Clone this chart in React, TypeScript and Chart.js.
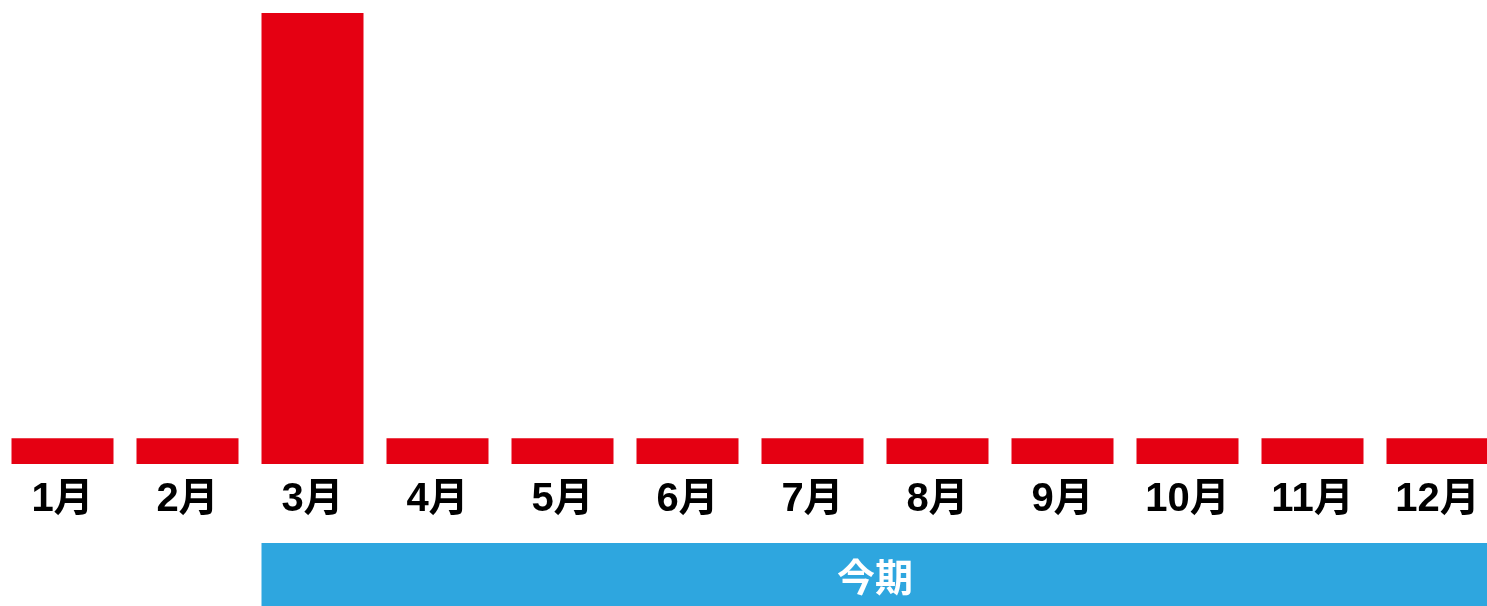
import React, { useEffect, useRef } from "react";
import { Chart, registerables } from "chart.js";

Chart.register(...registerables);

const months = ["1月", "2月", "3月", "4月", "5月", "6月", "7月", "8月", "9月", "10月", "11月", "12月"];
const values = [1, 1, 17.5, 1, 1, 1, 1, 1, 1, 1, 1, 1];
const periodLabel = "今期";
const periodStartIndex = 2;

const RED = "#E50012";
const BLUE = "#2EA6DF";
const FONT = '"Liberation Sans", "Noto Sans CJK JP", sans-serif';

const periodBand = {
  id: "periodBand",
  afterDraw(chart: any) {
    const meta = chart.getDatasetMeta(0);
    const first = meta.data[periodStartIndex];
    const last = meta.data[meta.data.length - 1];
    if (!first || !last) return;
    const xScale = chart.scales.x;
    const ctx = chart.ctx;
    const left = first.x - first.width / 2;
    const right = last.x + last.width / 2;
    const top = xScale.bottom + 7;
    const bottom = chart.height;
    ctx.save();
    ctx.fillStyle = BLUE;
    ctx.fillRect(left, top, right - left, bottom - top);
    ctx.fillStyle = "#ffffff";
    ctx.font = `bold 38px "Noto Sans CJK JP", sans-serif`;
    ctx.textAlign = "center";
    ctx.textBaseline = "middle";
    ctx.fillText(periodLabel, (left + right) / 2, (top + bottom) / 2 + 2);
    ctx.restore();
  },
};

export default function App() {
  const ref = useRef<HTMLCanvasElement | null>(null);
  useEffect(() => {
    if (!ref.current) return;
    const chart = new Chart(ref.current, {
      type: "bar",
      data: {
        labels: months,
        datasets: [
          {
            data: values,
            backgroundColor: RED,
            borderWidth: 0,
            barPercentage: 0.816,
            categoryPercentage: 1,
          },
        ],
      },
      options: {
        animation: false,
        responsive: false,
        devicePixelRatio: 1,
        layout: { padding: { top: 0, left: 0, right: 0, bottom: 70 } },
        plugins: { legend: { display: false }, tooltip: { enabled: false } },
        scales: {
          x: {
            grid: { display: false, drawTicks: false },
            border: { display: false },
            ticks: {
              color: "#000",
              padding: 12,
              font: { family: FONT, size: 40, weight: "bold" },
              maxRotation: 0,
              autoSkip: false,
            },
          },
          y: {
            display: false,
            min: 0,
            max: 18,
          },
        },
      },
      plugins: [periodBand],
    });
    return () => chart.destroy();
  }, []);
  return (
    <div
      style={{
        position: "fixed",
        left: 0,
        top: 0,
        width: 1487,
        height: 606,
        overflow: "hidden",
        background: "#fff",
      }}
    >
      <canvas ref={ref} width={1500} height={606} style={{ display: "block" }} />
    </div>
  );
}
